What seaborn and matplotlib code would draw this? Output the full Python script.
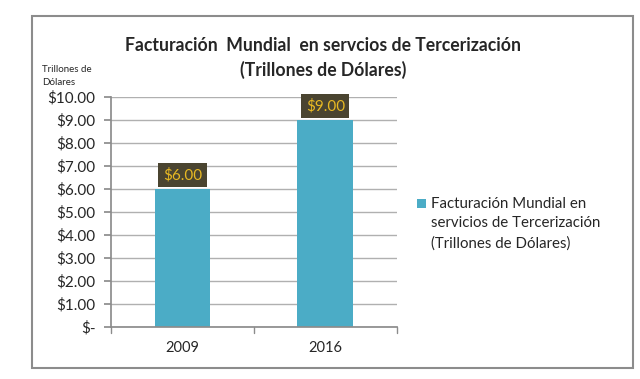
import matplotlib
matplotlib.use("Agg")
import matplotlib.pyplot as plt
import seaborn as sns
import pandas as pd
from matplotlib.patches import Rectangle

years = ["2009", "2016"]
values = [6.00, 9.00]
series_name = "Facturación Mundial en\nservicios de Tercerización\n(Trillones de Dólares)"
title = "Facturación  Mundial  en servcios de Tercerización\n(Trillones de Dólares)"
yticks = [0, 1, 2, 3, 4, 5, 6, 7, 8, 9, 10]

sns.set_theme(style="white")
plt.rcParams["font.family"] = ["Lato", "DejaVu Sans"]

df = pd.DataFrame({"year": years, "value": values, "serie": series_name})

fig = plt.figure(figsize=(6.4, 3.79), dpi=100)
fig.patch.set_facecolor("white")
# outer chart frame
fig.add_artist(Rectangle((0.05, 0.029), 0.939, 0.929, transform=fig.transFigure,
                         fill=False, edgecolor="#8c8c8c", linewidth=1.5))

ax = fig.add_axes([0.1734, 0.1372, 0.4466, 0.6068])
sns.barplot(data=df, x="year", y="value", hue="serie",
            palette=["#4BACC6"], width=0.39, ax=ax, saturation=1, linewidth=0)

ax.set_ylim(0, 10)
ax.set_yticks(yticks)
ax.set_yticklabels(["$-"] + [f"${v:.2f}" for v in yticks[1:]], fontsize=11)
ax.set_xlim(-0.5, 1.5)
ax.set_xticks([0, 1])
ax.set_xticklabels(years, fontsize=10.5)
ax.set_xlabel("")
ax.set_ylabel("")
ax.yaxis.grid(True, color="#b0b0b0", linewidth=1)
ax.set_axisbelow(True)
for s in ["top", "right"]:
    ax.spines[s].set_visible(False)
ax.spines["left"].set_color("#8c8c8c")
ax.spines["bottom"].set_color("#8c8c8c")
ax.tick_params(axis="y", length=5, color="#8c8c8c", left=True, pad=6)
ax.tick_params(axis="x", length=0, pad=10)
# category separators on x axis
for xv in [-0.5, 0.5, 1.5]:
    ax.plot([xv, xv], [0, -0.25], color="#8c8c8c", lw=1, clip_on=False)

for i, v in enumerate(values):
    ax.text(i, v + 0.3, f"${v:.2f}", ha="center", va="bottom", fontsize=11,
            color="#e8b923",
            bbox=dict(boxstyle="square,pad=0.3", facecolor="#4a4430", edgecolor="none"))

fig.text(0.505, 0.847, title, ha="center", va="center", fontsize=12.7,
         fontweight="bold", linespacing=1.4)
fig.text(0.066, 0.80, "Trillones de\nDólares", ha="left", va="center", fontsize=7,
         linespacing=1.5)

leg = ax.legend(loc="center left", bbox_to_anchor=(1.05, 0.45), frameon=False,
                fontsize=10.8, handlelength=0.6, handleheight=0.6, handletextpad=0.3,
                borderaxespad=0)
for t in leg.get_texts():
    t.set_linespacing(1.5)
# put the marker next to the first line of the label
h = leg.legend_handles[0]
h.set_y(h.get_y() + 14.5)

fig.savefig("out.png", dpi=100)
